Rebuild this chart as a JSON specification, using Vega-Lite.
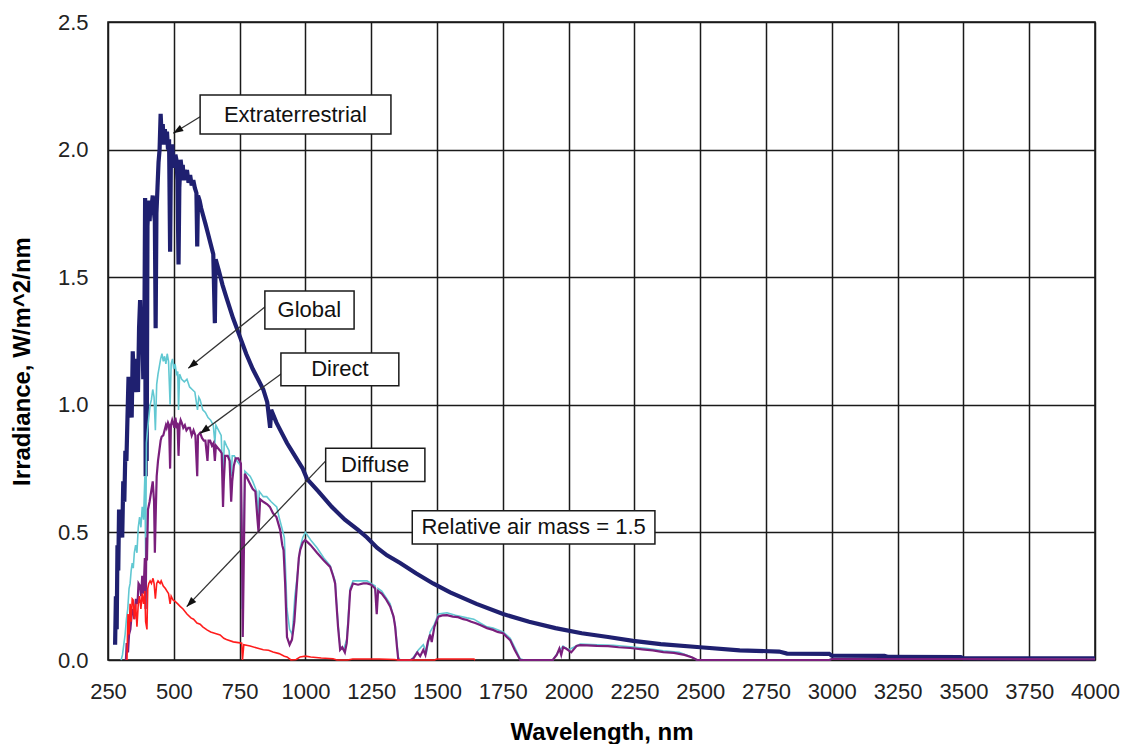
{
  "$schema": "https://vega.github.io/schema/vega-lite/v6.json",
  "width": 987,
  "height": 638,
  "autosize": {"type": "none"},
  "padding": {"left": 108, "top": 22, "right": 27, "bottom": 84},
  "background": "white",
  "config": {
    "view": {"stroke": "#111111", "strokeWidth": 1.5},
    "font": "Liberation Sans",
    "axis": {"labelFont": "Liberation Sans", "titleFont": "Liberation Sans", "grid": true, "gridColor": "#1a1a1a", "gridWidth": 1.5, "gridOpacity": 1,
      "ticks": false, "domain": false, "labelFontSize": 22, "labelColor": "#222222", "labelFlush": false, "labelOverlap": false,
      "titleFontSize": 24, "titleFontWeight": "bold", "titleColor": "#000000", "titleBaseline": "alphabetic"},
    "axisX": {"labelPadding": 21, "titleY": 79},
    "axisY": {"labelPadding": 20, "titleAngle": -90, "titleAlign": "center", "titleX": -79, "titleY": 339}
  },
  "datasets": {
    "spec": [
      {"s":"E","w":277,"v":0.06},{"s":"E","w":280,"v":0.25},{"s":"E","w":283,"v":0.12},{"s":"E","w":286,"v":0.45},{"s":"E","w":289,"v":0.35},{"s":"E","w":292,"v":0.59},{"s":"E","w":296,"v":0.50},{"s":"E","w":300,"v":0.55},{"s":"E","w":304,"v":0.48},{"s":"E","w":308,"v":0.70},{"s":"E","w":312,"v":0.62},{"s":"E","w":316,"v":0.82},{"s":"E","w":320,"v":0.78},{"s":"E","w":324,"v":0.95},{"s":"E","w":328,"v":1.11},{"s":"E","w":332,"v":0.98},{"s":"E","w":336,"v":1.05},{"s":"E","w":340,"v":0.95},{"s":"E","w":344,"v":1.21},{"s":"E","w":348,"v":1.10},{"s":"E","w":352,"v":1.18},{"s":"E","w":356,"v":1.05},{"s":"E","w":360,"v":1.15},{"s":"E","w":364,"v":1.05},{"s":"E","w":368,"v":1.30},{"s":"E","w":372,"v":1.41},{"s":"E","w":376,"v":1.25},{"s":"E","w":380,"v":1.35},{"s":"E","w":384,"v":1.10},{"s":"E","w":388,"v":1.25},{"s":"E","w":391,"v":1.81},{"s":"E","w":393,"v":0.72},{"s":"E","w":395,"v":1.60},{"s":"E","w":397,"v":0.78},{"s":"E","w":400,"v":1.70},{"s":"E","w":404,"v":1.80},{"s":"E","w":408,"v":1.72},{"s":"E","w":412,"v":1.80},{"s":"E","w":416,"v":1.78},{"s":"E","w":420,"v":1.82},{"s":"E","w":424,"v":1.76},{"s":"E","w":428,"v":1.72},{"s":"E","w":431,"v":1.30},{"s":"E","w":434,"v":1.75},{"s":"E","w":438,"v":1.85},{"s":"E","w":442,"v":1.95},{"s":"E","w":446,"v":2.00},{"s":"E","w":450,"v":2.14},{"s":"E","w":454,"v":2.05},{"s":"E","w":458,"v":2.10},{"s":"E","w":462,"v":2.02},{"s":"E","w":466,"v":2.08},{"s":"E","w":470,"v":2.03},{"s":"E","w":474,"v":2.07},{"s":"E","w":478,"v":2.00},{"s":"E","w":482,"v":2.04},{"s":"E","w":486,"v":1.60},{"s":"E","w":489,"v":1.98},{"s":"E","w":494,"v":2.02},{"s":"E","w":498,"v":1.95},{"s":"E","w":502,"v":1.93},{"s":"E","w":506,"v":1.98},{"s":"E","w":510,"v":1.96},{"s":"E","w":514,"v":1.88},{"s":"E","w":518,"v":1.55},{"s":"E","w":521,"v":1.85},{"s":"E","w":526,"v":1.96},{"s":"E","w":530,"v":1.92},{"s":"E","w":534,"v":1.94},{"s":"E","w":538,"v":1.88},{"s":"E","w":542,"v":1.92},{"s":"E","w":546,"v":1.90},{"s":"E","w":550,"v":1.92},{"s":"E","w":556,"v":1.87},{"s":"E","w":562,"v":1.90},{"s":"E","w":568,"v":1.86},{"s":"E","w":574,"v":1.88},{"s":"E","w":580,"v":1.85},{"s":"E","w":586,"v":1.83},{"s":"E","w":589,"v":1.62},{"s":"E","w":592,"v":1.82},{"s":"E","w":598,"v":1.80},{"s":"E","w":604,"v":1.77},{"s":"E","w":612,"v":1.74},{"s":"E","w":620,"v":1.71},{"s":"E","w":630,"v":1.67},{"s":"E","w":640,"v":1.63},{"s":"E","w":650,"v":1.59},{"s":"E","w":656,"v":1.32},{"s":"E","w":659,"v":1.57},{"s":"E","w":670,"v":1.53},{"s":"E","w":685,"v":1.47},{"s":"E","w":700,"v":1.42},{"s":"E","w":725,"v":1.34},{"s":"E","w":750,"v":1.27},{"s":"E","w":775,"v":1.20},{"s":"E","w":800,"v":1.14},{"s":"E","w":820,"v":1.10},{"s":"E","w":840,"v":1.06},{"s":"E","w":855,"v":1.01},{"s":"E","w":866,"v":0.91},{"s":"E","w":870,"v":0.98},{"s":"E","w":890,"v":0.93},{"s":"E","w":910,"v":0.89},{"s":"E","w":930,"v":0.85},{"s":"E","w":960,"v":0.80},{"s":"E","w":990,"v":0.75},{"s":"E","w":1006,"v":0.71},{"s":"E","w":1050,"v":0.66},{"s":"E","w":1100,"v":0.60},{"s":"E","w":1150,"v":0.55},{"s":"E","w":1200,"v":0.51},{"s":"E","w":1234,"v":0.48},{"s":"E","w":1272,"v":0.44},{"s":"E","w":1310,"v":0.41},{"s":"E","w":1360,"v":0.38},{"s":"E","w":1420,"v":0.34},{"s":"E","w":1485,"v":0.30},{"s":"E","w":1550,"v":0.265},{"s":"E","w":1650,"v":0.22},{"s":"E","w":1751,"v":0.18},{"s":"E","w":1850,"v":0.15},{"s":"E","w":1950,"v":0.125},{"s":"E","w":2050,"v":0.105},{"s":"E","w":2150,"v":0.09},{"s":"E","w":2245,"v":0.075},{"s":"E","w":2350,"v":0.062},{"s":"E","w":2500,"v":0.05},{"s":"E","w":2650,"v":0.038},{"s":"E","w":2800,"v":0.033},{"s":"E","w":2830,"v":0.025},{"s":"E","w":2990,"v":0.024},{"s":"E","w":3000,"v":0.017},{"s":"E","w":3200,"v":0.016},{"s":"E","w":3215,"v":0.012},{"s":"E","w":3490,"v":0.011},{"s":"E","w":3500,"v":0.007},{"s":"E","w":4000,"v":0.006},

      {"s":"G","w":300,"v":0},{"s":"G","w":305,"v":0.02},{"s":"G","w":310,"v":0.06},{"s":"G","w":315,"v":0.10},{"s":"G","w":320,"v":0.16},{"s":"G","w":325,"v":0.20},{"s":"G","w":330,"v":0.28},{"s":"G","w":334,"v":0.30},{"s":"G","w":338,"v":0.35},{"s":"G","w":342,"v":0.38},{"s":"G","w":346,"v":0.36},{"s":"G","w":350,"v":0.42},{"s":"G","w":355,"v":0.45},{"s":"G","w":360,"v":0.42},{"s":"G","w":365,"v":0.52},{"s":"G","w":370,"v":0.56},{"s":"G","w":375,"v":0.52},{"s":"G","w":380,"v":0.60},{"s":"G","w":385,"v":0.55},{"s":"G","w":390,"v":0.72},{"s":"G","w":393,"v":0.40},{"s":"G","w":396,"v":0.85},{"s":"G","w":400,"v":0.90},{"s":"G","w":405,"v":0.95},{"s":"G","w":410,"v":1.00},{"s":"G","w":415,"v":1.02},{"s":"G","w":420,"v":1.06},{"s":"G","w":425,"v":1.03},{"s":"G","w":430,"v":0.90},{"s":"G","w":435,"v":1.08},{"s":"G","w":440,"v":1.12},{"s":"G","w":445,"v":1.15},{"s":"G","w":450,"v":1.18},{"s":"G","w":455,"v":1.20},{"s":"G","w":460,"v":1.17},{"s":"G","w":465,"v":1.19},{"s":"G","w":470,"v":1.16},{"s":"G","w":475,"v":1.20},{"s":"G","w":480,"v":1.17},{"s":"G","w":486,"v":1.00},{"s":"G","w":490,"v":1.16},{"s":"G","w":495,"v":1.18},{"s":"G","w":500,"v":1.14},{"s":"G","w":505,"v":1.16},{"s":"G","w":510,"v":1.12},{"s":"G","w":515,"v":1.13},{"s":"G","w":518,"v":0.98},{"s":"G","w":522,"v":1.12},{"s":"G","w":530,"v":1.10},{"s":"G","w":540,"v":1.09},{"s":"G","w":550,"v":1.10},{"s":"G","w":560,"v":1.07},{"s":"G","w":570,"v":1.06},{"s":"G","w":580,"v":1.05},{"s":"G","w":590,"v":0.98},{"s":"G","w":595,"v":1.03},{"s":"G","w":600,"v":1.02},{"s":"G","w":610,"v":0.98},{"s":"G","w":620,"v":0.97},{"s":"G","w":630,"v":0.95},{"s":"G","w":640,"v":0.94},{"s":"G","w":650,"v":0.92},{"s":"G","w":656,"v":0.85},{"s":"G","w":660,"v":0.92},{"s":"G","w":670,"v":0.90},{"s":"G","w":680,"v":0.88},{"s":"G","w":687,"v":0.70},{"s":"G","w":692,"v":0.86},{"s":"G","w":700,"v":0.84},{"s":"G","w":710,"v":0.82},{"s":"G","w":718,"v":0.72},{"s":"G","w":722,"v":0.80},{"s":"G","w":730,"v":0.80},{"s":"G","w":740,"v":0.78},{"s":"G","w":755,"v":0.76},{"s":"G","w":760,"v":0.20},{"s":"G","w":765,"v":0.50},{"s":"G","w":770,"v":0.74},{"s":"G","w":780,"v":0.73},{"s":"G","w":790,"v":0.72},{"s":"G","w":800,"v":0.70},{"s":"G","w":815,"v":0.66},{"s":"G","w":820,"v":0.56},{"s":"G","w":825,"v":0.66},{"s":"G","w":840,"v":0.64},{"s":"G","w":853,"v":0.64},{"s":"G","w":870,"v":0.62},{"s":"G","w":891,"v":0.60},{"s":"G","w":900,"v":0.56},{"s":"G","w":910,"v":0.52},{"s":"G","w":920,"v":0.48},{"s":"G","w":930,"v":0.20},{"s":"G","w":940,"v":0.12},{"s":"G","w":950,"v":0.10},{"s":"G","w":960,"v":0.25},{"s":"G","w":968,"v":0.32},{"s":"G","w":980,"v":0.44},{"s":"G","w":990,"v":0.48},{"s":"G","w":1000,"v":0.50},{"s":"G","w":1020,"v":0.47},{"s":"G","w":1044,"v":0.44},{"s":"G","w":1070,"v":0.40},{"s":"G","w":1094,"v":0.37},{"s":"G","w":1113,"v":0.31},{"s":"G","w":1124,"v":0.14},{"s":"G","w":1132,"v":0.05},{"s":"G","w":1145,"v":0.04},{"s":"G","w":1157,"v":0.08},{"s":"G","w":1170,"v":0.28},{"s":"G","w":1181,"v":0.31},{"s":"G","w":1200,"v":0.31},{"s":"G","w":1234,"v":0.31},{"s":"G","w":1265,"v":0.29},{"s":"G","w":1271,"v":0.19},{"s":"G","w":1276,"v":0.28},{"s":"G","w":1290,"v":0.27},{"s":"G","w":1322,"v":0.22},{"s":"G","w":1341,"v":0.14},{"s":"G","w":1353,"v":0.01},{"s":"G","w":1360,"v":0},{"s":"G","w":1400,"v":0},{"s":"G","w":1410,"v":0.01},{"s":"G","w":1430,"v":0.04},{"s":"G","w":1448,"v":0.06},{"s":"G","w":1460,"v":0.03},{"s":"G","w":1474,"v":0.11},{"s":"G","w":1490,"v":0.14},{"s":"G","w":1505,"v":0.18},{"s":"G","w":1538,"v":0.185},{"s":"G","w":1570,"v":0.175},{"s":"G","w":1614,"v":0.165},{"s":"G","w":1640,"v":0.16},{"s":"G","w":1664,"v":0.145},{"s":"G","w":1690,"v":0.13},{"s":"G","w":1713,"v":0.125},{"s":"G","w":1751,"v":0.11},{"s":"G","w":1778,"v":0.085},{"s":"G","w":1800,"v":0.04},{"s":"G","w":1816,"v":0.005},{"s":"G","w":1830,"v":0},{"s":"G","w":1940,"v":0},{"s":"G","w":1960,"v":0.03},{"s":"G","w":1979,"v":0.055},{"s":"G","w":2000,"v":0.04},{"s":"G","w":2044,"v":0.062},{"s":"G","w":2108,"v":0.06},{"s":"G","w":2170,"v":0.058},{"s":"G","w":2234,"v":0.052},{"s":"G","w":2300,"v":0.045},{"s":"G","w":2360,"v":0.036},{"s":"G","w":2420,"v":0.03},{"s":"G","w":2460,"v":0.015},{"s":"G","w":2488,"v":0},{"s":"G","w":2990,"v":0},{"s":"G","w":3000,"v":0.005},{"s":"G","w":3500,"v":0.004},{"s":"G","w":4000,"v":0.003},

      {"s":"D","w":318,"v":0},{"s":"D","w":321,"v":0.066},{"s":"D","w":326,"v":0.03},{"s":"D","w":330,"v":0.10},{"s":"D","w":335,"v":0.12},{"s":"D","w":340,"v":0.18},{"s":"D","w":346,"v":0.20},{"s":"D","w":350,"v":0.16},{"s":"D","w":356,"v":0.24},{"s":"D","w":362,"v":0.22},{"s":"D","w":366,"v":0.30},{"s":"D","w":372,"v":0.29},{"s":"D","w":376,"v":0.25},{"s":"D","w":380,"v":0.33},{"s":"D","w":385,"v":0.26},{"s":"D","w":390,"v":0.40},{"s":"D","w":393,"v":0.20},{"s":"D","w":396,"v":0.48},{"s":"D","w":398,"v":0.39},{"s":"D","w":402,"v":0.59},{"s":"D","w":408,"v":0.62},{"s":"D","w":414,"v":0.66},{"s":"D","w":420,"v":0.70},{"s":"D","w":425,"v":0.62},{"s":"D","w":428,"v":0.42},{"s":"D","w":432,"v":0.60},{"s":"D","w":435,"v":0.72},{"s":"D","w":440,"v":0.78},{"s":"D","w":445,"v":0.82},{"s":"D","w":450,"v":0.86},{"s":"D","w":454,"v":0.875},{"s":"D","w":460,"v":0.88},{"s":"D","w":465,"v":0.90},{"s":"D","w":470,"v":0.92},{"s":"D","w":473,"v":0.91},{"s":"D","w":478,"v":0.93},{"s":"D","w":482,"v":0.92},{"s":"D","w":486,"v":0.75},{"s":"D","w":489,"v":0.92},{"s":"D","w":494,"v":0.94},{"s":"D","w":497,"v":0.93},{"s":"D","w":502,"v":0.91},{"s":"D","w":506,"v":0.95},{"s":"D","w":510,"v":0.92},{"s":"D","w":514,"v":0.93},{"s":"D","w":518,"v":0.80},{"s":"D","w":522,"v":0.92},{"s":"D","w":526,"v":0.94},{"s":"D","w":530,"v":0.93},{"s":"D","w":536,"v":0.91},{"s":"D","w":542,"v":0.92},{"s":"D","w":548,"v":0.90},{"s":"D","w":555,"v":0.91},{"s":"D","w":561,"v":0.91},{"s":"D","w":568,"v":0.88},{"s":"D","w":575,"v":0.90},{"s":"D","w":582,"v":0.88},{"s":"D","w":589,"v":0.72},{"s":"D","w":592,"v":0.88},{"s":"D","w":600,"v":0.89},{"s":"D","w":607,"v":0.87},{"s":"D","w":614,"v":0.86},{"s":"D","w":620,"v":0.86},{"s":"D","w":628,"v":0.78},{"s":"D","w":632,"v":0.86},{"s":"D","w":638,"v":0.86},{"s":"D","w":645,"v":0.84},{"s":"D","w":651,"v":0.85},{"s":"D","w":656,"v":0.78},{"s":"D","w":660,"v":0.84},{"s":"D","w":668,"v":0.83},{"s":"D","w":676,"v":0.82},{"s":"D","w":682,"v":0.81},{"s":"D","w":687,"v":0.60},{"s":"D","w":690,"v":0.70},{"s":"D","w":695,"v":0.80},{"s":"D","w":705,"v":0.80},{"s":"D","w":712,"v":0.78},{"s":"D","w":718,"v":0.62},{"s":"D","w":722,"v":0.70},{"s":"D","w":728,"v":0.76},{"s":"D","w":735,"v":0.79},{"s":"D","w":745,"v":0.79},{"s":"D","w":755,"v":0.77},{"s":"D","w":759,"v":0.45},{"s":"D","w":762,"v":0.09},{"s":"D","w":766,"v":0.40},{"s":"D","w":770,"v":0.73},{"s":"D","w":780,"v":0.71},{"s":"D","w":790,"v":0.69},{"s":"D","w":800,"v":0.67},{"s":"D","w":810,"v":0.66},{"s":"D","w":818,"v":0.55},{"s":"D","w":822,"v":0.50},{"s":"D","w":828,"v":0.63},{"s":"D","w":840,"v":0.62},{"s":"D","w":855,"v":0.61},{"s":"D","w":865,"v":0.60},{"s":"D","w":877,"v":0.575},{"s":"D","w":890,"v":0.56},{"s":"D","w":904,"v":0.51},{"s":"D","w":912,"v":0.45},{"s":"D","w":917,"v":0.43},{"s":"D","w":923,"v":0.30},{"s":"D","w":930,"v":0.09},{"s":"D","w":940,"v":0.06},{"s":"D","w":949,"v":0.08},{"s":"D","w":958,"v":0.15},{"s":"D","w":968,"v":0.30},{"s":"D","w":975,"v":0.40},{"s":"D","w":980,"v":0.43},{"s":"D","w":990,"v":0.46},{"s":"D","w":999,"v":0.47},{"s":"D","w":1010,"v":0.46},{"s":"D","w":1020,"v":0.45},{"s":"D","w":1044,"v":0.42},{"s":"D","w":1070,"v":0.39},{"s":"D","w":1094,"v":0.365},{"s":"D","w":1105,"v":0.33},{"s":"D","w":1113,"v":0.30},{"s":"D","w":1118,"v":0.22},{"s":"D","w":1124,"v":0.13},{"s":"D","w":1132,"v":0.04},{"s":"D","w":1140,"v":0.05},{"s":"D","w":1150,"v":0.03},{"s":"D","w":1157,"v":0.066},{"s":"D","w":1163,"v":0.15},{"s":"D","w":1170,"v":0.27},{"s":"D","w":1181,"v":0.30},{"s":"D","w":1200,"v":0.295},{"s":"D","w":1220,"v":0.30},{"s":"D","w":1234,"v":0.30},{"s":"D","w":1250,"v":0.295},{"s":"D","w":1265,"v":0.28},{"s":"D","w":1271,"v":0.18},{"s":"D","w":1276,"v":0.27},{"s":"D","w":1290,"v":0.26},{"s":"D","w":1305,"v":0.24},{"s":"D","w":1322,"v":0.21},{"s":"D","w":1335,"v":0.17},{"s":"D","w":1341,"v":0.13},{"s":"D","w":1348,"v":0.05},{"s":"D","w":1353,"v":0},{"s":"D","w":1400,"v":0},{"s":"D","w":1410,"v":0.005},{"s":"D","w":1425,"v":0.03},{"s":"D","w":1436,"v":0.015},{"s":"D","w":1448,"v":0.04},{"s":"D","w":1456,"v":0.02},{"s":"D","w":1465,"v":0.07},{"s":"D","w":1474,"v":0.10},{"s":"D","w":1480,"v":0.07},{"s":"D","w":1490,"v":0.13},{"s":"D","w":1505,"v":0.17},{"s":"D","w":1520,"v":0.175},{"s":"D","w":1538,"v":0.176},{"s":"D","w":1560,"v":0.17},{"s":"D","w":1580,"v":0.168},{"s":"D","w":1600,"v":0.16},{"s":"D","w":1614,"v":0.157},{"s":"D","w":1630,"v":0.15},{"s":"D","w":1645,"v":0.145},{"s":"D","w":1664,"v":0.137},{"s":"D","w":1690,"v":0.125},{"s":"D","w":1713,"v":0.118},{"s":"D","w":1730,"v":0.11},{"s":"D","w":1751,"v":0.105},{"s":"D","w":1765,"v":0.09},{"s":"D","w":1778,"v":0.078},{"s":"D","w":1795,"v":0.04},{"s":"D","w":1816,"v":0},{"s":"D","w":1940,"v":0},{"s":"D","w":1955,"v":0.02},{"s":"D","w":1965,"v":0.045},{"s":"D","w":1972,"v":0.02},{"s":"D","w":1979,"v":0.05},{"s":"D","w":1990,"v":0.045},{"s":"D","w":2010,"v":0.03},{"s":"D","w":2030,"v":0.055},{"s":"D","w":2044,"v":0.058},{"s":"D","w":2070,"v":0.057},{"s":"D","w":2108,"v":0.055},{"s":"D","w":2150,"v":0.054},{"s":"D","w":2190,"v":0.05},{"s":"D","w":2234,"v":0.047},{"s":"D","w":2280,"v":0.042},{"s":"D","w":2320,"v":0.038},{"s":"D","w":2360,"v":0.031},{"s":"D","w":2400,"v":0.028},{"s":"D","w":2440,"v":0.02},{"s":"D","w":2470,"v":0.01},{"s":"D","w":2488,"v":0},{"s":"D","w":2990,"v":0},{"s":"D","w":3000,"v":0.004},{"s":"D","w":3500,"v":0.004},{"s":"D","w":4000,"v":0.003},

      {"s":"F","w":322,"v":0},{"s":"F","w":326,"v":0.18},{"s":"F","w":330,"v":0.10},{"s":"F","w":334,"v":0.22},{"s":"F","w":338,"v":0.15},{"s":"F","w":342,"v":0.24},{"s":"F","w":346,"v":0.235},{"s":"F","w":350,"v":0.16},{"s":"F","w":355,"v":0.22},{"s":"F","w":360,"v":0.13},{"s":"F","w":365,"v":0.22},{"s":"F","w":370,"v":0.25},{"s":"F","w":375,"v":0.20},{"s":"F","w":380,"v":0.26},{"s":"F","w":385,"v":0.22},{"s":"F","w":390,"v":0.27},{"s":"F","w":393,"v":0.15},{"s":"F","w":398,"v":0.12},{"s":"F","w":401,"v":0.28},{"s":"F","w":405,"v":0.30},{"s":"F","w":410,"v":0.31},{"s":"F","w":415,"v":0.30},{"s":"F","w":421,"v":0.32},{"s":"F","w":425,"v":0.30},{"s":"F","w":430,"v":0.24},{"s":"F","w":435,"v":0.30},{"s":"F","w":440,"v":0.31},{"s":"F","w":448,"v":0.30},{"s":"F","w":452,"v":0.31},{"s":"F","w":460,"v":0.29},{"s":"F","w":468,"v":0.28},{"s":"F","w":474,"v":0.27},{"s":"F","w":480,"v":0.26},{"s":"F","w":486,"v":0.22},{"s":"F","w":490,"v":0.25},{"s":"F","w":497,"v":0.235},{"s":"F","w":505,"v":0.23},{"s":"F","w":515,"v":0.22},{"s":"F","w":524,"v":0.21},{"s":"F","w":535,"v":0.20},{"s":"F","w":550,"v":0.18},{"s":"F","w":565,"v":0.165},{"s":"F","w":575,"v":0.16},{"s":"F","w":588,"v":0.145},{"s":"F","w":600,"v":0.14},{"s":"F","w":610,"v":0.13},{"s":"F","w":626,"v":0.118},{"s":"F","w":640,"v":0.11},{"s":"F","w":655,"v":0.105},{"s":"F","w":676,"v":0.098},{"s":"F","w":690,"v":0.085},{"s":"F","w":700,"v":0.08},{"s":"F","w":726,"v":0.071},{"s":"F","w":745,"v":0.068},{"s":"F","w":758,"v":0.066},{"s":"F","w":761,"v":0},{"s":"F","w":766,"v":0.06},{"s":"F","w":790,"v":0.055},{"s":"F","w":816,"v":0.047},{"s":"F","w":840,"v":0.04},{"s":"F","w":860,"v":0.038},{"s":"F","w":877,"v":0.031},{"s":"F","w":900,"v":0.025},{"s":"F","w":920,"v":0.015},{"s":"F","w":930,"v":0.012},{"s":"F","w":945,"v":0},{"s":"F","w":965,"v":0.002},{"s":"F","w":980,"v":0.012},{"s":"F","w":1000,"v":0.015},{"s":"F","w":1020,"v":0.012},{"s":"F","w":1040,"v":0.01},{"s":"F","w":1060,"v":0.008},{"s":"F","w":1105,"v":0.005},{"s":"F","w":1120,"v":0},{"s":"F","w":1160,"v":0},{"s":"F","w":1180,"v":0.004},{"s":"F","w":1280,"v":0.004},{"s":"F","w":1340,"v":0.002},{"s":"F","w":1350,"v":0},{"s":"F","w":1490,"v":0},{"s":"F","w":1500,"v":0.004},{"s":"F","w":1640,"v":0.004},{"s":"F","w":1645,"v":0}
    ],
    "boxes": [
      {"label":"Extraterrestrial","x1":600,"x2":1325,"y1":2.061,"y2":2.214,"tx":962,"ty":2.137},
      {"label":"Global","x1":846,"x2":1185,"y1":1.297,"y2":1.446,"tx":1015,"ty":1.371},
      {"label":"Direct","x1":907,"x2":1355,"y1":1.075,"y2":1.203,"tx":1131,"ty":1.139},
      {"label":"Diffuse","x1":1077,"x2":1454,"y1":0.699,"y2":0.830,"tx":1265,"ty":0.764},
      {"label":"Relative air mass = 1.5","x1":1406,"x2":2328,"y1":0.4545,"y2":0.585,"tx":1867,"ty":0.52}
    ],
    "arrows": [
      {"x1":600,"y1":2.129,"x2":498,"y2":2.064,"ang":238},
      {"x1":847,"y1":1.384,"x2":555,"y2":1.143,"ang":231},
      {"x1":910,"y1":1.123,"x2":600,"y2":0.888,"ang":234},
      {"x1":1081,"y1":0.784,"x2":549,"y2":0.209,"ang":224}
    ]
  },
  "layer": [
    {
      "data": {"name": "spec"},
      "transform": [{"filter": "datum.s === 'E'"}],
      "mark": {"type": "line", "color": "#1f2070", "strokeWidth": 4.2, "strokeJoin": "miter"},
      "encoding": {
        "x": {"field": "w", "type": "quantitative", "scale": {"domain": [250, 4000], "nice": false, "zero": false},
          "axis": {"title": "Wavelength, nm", "format": "d", "values": [250,500,750,1000,1250,1500,1750,2000,2250,2500,2750,3000,3250,3500,3750,4000]}},
        "y": {"field": "v", "type": "quantitative", "scale": {"domain": [0, 2.5], "nice": false, "zero": true},
          "axis": {"title": "Irradiance, W/m^2/nm", "format": ".1f", "values": [0,0.5,1,1.5,2,2.5]}}
      }
    },
    {
      "data": {"name": "spec"},
      "transform": [{"filter": "datum.s === 'G'"}],
      "mark": {"type": "line", "color": "#62c8d2", "strokeWidth": 1.6},
      "encoding": {
        "x": {"field": "w", "type": "quantitative", "scale": {"domain": [250, 4000], "nice": false, "zero": false},
          "axis": {"title": "Wavelength, nm", "format": "d", "values": [250,500,750,1000,1250,1500,1750,2000,2250,2500,2750,3000,3250,3500,3750,4000]}},
        "y": {"field": "v", "type": "quantitative", "scale": {"domain": [0, 2.5], "nice": false, "zero": true},
          "axis": {"title": "Irradiance, W/m^2/nm", "format": ".1f", "values": [0,0.5,1,1.5,2,2.5]}}
      }
    },
    {
      "data": {"name": "spec"},
      "transform": [{"filter": "datum.s === 'D'"}],
      "mark": {"type": "line", "color": "#7a1f7c", "strokeWidth": 2.2},
      "encoding": {
        "x": {"field": "w", "type": "quantitative", "scale": {"domain": [250, 4000], "nice": false, "zero": false},
          "axis": {"title": "Wavelength, nm", "format": "d", "values": [250,500,750,1000,1250,1500,1750,2000,2250,2500,2750,3000,3250,3500,3750,4000]}},
        "y": {"field": "v", "type": "quantitative", "scale": {"domain": [0, 2.5], "nice": false, "zero": true},
          "axis": {"title": "Irradiance, W/m^2/nm", "format": ".1f", "values": [0,0.5,1,1.5,2,2.5]}}
      }
    },
    {
      "data": {"name": "spec"},
      "transform": [{"filter": "datum.s === 'F'"}],
      "mark": {"type": "line", "color": "#ff1c1c", "strokeWidth": 1.6},
      "encoding": {
        "x": {"field": "w", "type": "quantitative", "scale": {"domain": [250, 4000], "nice": false, "zero": false},
          "axis": {"title": "Wavelength, nm", "format": "d", "values": [250,500,750,1000,1250,1500,1750,2000,2250,2500,2750,3000,3250,3500,3750,4000]}},
        "y": {"field": "v", "type": "quantitative", "scale": {"domain": [0, 2.5], "nice": false, "zero": true},
          "axis": {"title": "Irradiance, W/m^2/nm", "format": ".1f", "values": [0,0.5,1,1.5,2,2.5]}}
      }
    },
    {
      "data": {"name": "arrows"},
      "mark": {"type": "rule", "color": "#333333", "strokeWidth": 1.3},
      "encoding": {
        "x": {"field": "x1", "type": "quantitative", "scale": {"domain": [250, 4000], "nice": false, "zero": false},
          "axis": {"title": "Wavelength, nm", "format": "d", "values": [250,500,750,1000,1250,1500,1750,2000,2250,2500,2750,3000,3250,3500,3750,4000]}},
        "x2": {"field": "x2"},
        "y": {"field": "y1", "type": "quantitative", "scale": {"domain": [0, 2.5], "nice": false, "zero": true},
          "axis": {"title": "Irradiance, W/m^2/nm", "format": ".1f", "values": [0,0.5,1,1.5,2,2.5]}},
        "y2": {"field": "y2"}
      }
    },
    {
      "data": {"name": "arrows"},
      "mark": {"type": "point", "shape": "M0,0 L-0.45,1.25 L0.45,1.25 Z", "filled": true, "color": "#111111", "opacity": 1, "size": 256, "strokeWidth": 0},
      "encoding": {
        "x": {"field": "x2", "type": "quantitative", "scale": {"domain": [250, 4000], "nice": false, "zero": false},
          "axis": {"title": "Wavelength, nm", "format": "d", "values": [250,500,750,1000,1250,1500,1750,2000,2250,2500,2750,3000,3250,3500,3750,4000]}},
        "y": {"field": "y2", "type": "quantitative", "scale": {"domain": [0, 2.5], "nice": false, "zero": true},
          "axis": {"title": "Irradiance, W/m^2/nm", "format": ".1f", "values": [0,0.5,1,1.5,2,2.5]}},
        "angle": {"field": "ang", "type": "quantitative", "scale": null}
      }
    },
    {
      "data": {"name": "boxes"},
      "mark": {"type": "rect", "fill": "white", "stroke": "#1a1a1a", "strokeWidth": 1.5},
      "encoding": {
        "x": {"field": "x1", "type": "quantitative", "scale": {"domain": [250, 4000], "nice": false, "zero": false},
          "axis": {"title": "Wavelength, nm", "format": "d", "values": [250,500,750,1000,1250,1500,1750,2000,2250,2500,2750,3000,3250,3500,3750,4000]}},
        "x2": {"field": "x2"},
        "y": {"field": "y1", "type": "quantitative", "scale": {"domain": [0, 2.5], "nice": false, "zero": true},
          "axis": {"title": "Irradiance, W/m^2/nm", "format": ".1f", "values": [0,0.5,1,1.5,2,2.5]}},
        "y2": {"field": "y2"}
      }
    },
    {
      "data": {"name": "boxes"},
      "mark": {"type": "text", "font": "Liberation Sans", "fontSize": 22, "color": "#111111", "align": "center", "baseline": "middle"},
      "encoding": {
        "x": {"field": "tx", "type": "quantitative", "scale": {"domain": [250, 4000], "nice": false, "zero": false},
          "axis": {"title": "Wavelength, nm", "format": "d", "values": [250,500,750,1000,1250,1500,1750,2000,2250,2500,2750,3000,3250,3500,3750,4000]}},
        "y": {"field": "ty", "type": "quantitative", "scale": {"domain": [0, 2.5], "nice": false, "zero": true},
          "axis": {"title": "Irradiance, W/m^2/nm", "format": ".1f", "values": [0,0.5,1,1.5,2,2.5]}},
        "text": {"field": "label"}
      }
    }
  ]
}
